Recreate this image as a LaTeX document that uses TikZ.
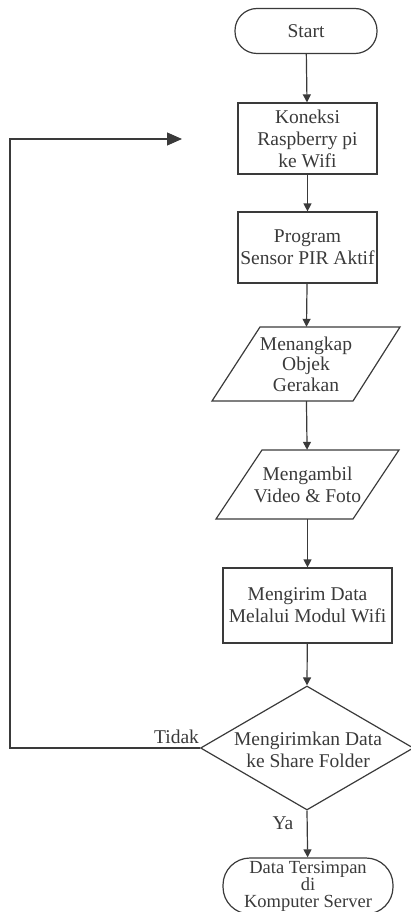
\documentclass[tikz,border=0pt]{standalone}
\usepackage{fontspec}
\setmainfont{Liberation Serif}
\usetikzlibrary{shapes.geometric,arrows.meta}
\definecolor{ink}{HTML}{3A3A3A}
\begin{document}
\begin{tikzpicture}[x=1pt,y=-1pt,
  txt/.style={text=ink, font=\fontsize{19.5}{22}\selectfont, align=center, inner sep=0pt},
  outline/.style={draw=ink, line width=1.2pt},
  proc/.style={txt, outline, rectangle, minimum width=139pt, minimum height=71pt},
  term/.style={txt, outline, rectangle, rounded corners=22pt, minimum width=142pt, minimum height=45pt},
  dec/.style={outline, diamond, minimum width=213pt, minimum height=124pt, inner sep=0pt},
  flow/.style={draw=ink, line width=1.2pt, -{Triangle[length=8pt,width=8pt]}},
  bigflow/.style={draw=ink, line width=1.2pt, -{Triangle[length=15pt,width=13pt]}}
]
\useasboundingbox (0,0) rectangle (411,912);

\node[term] (start) at (306,31) {Start};
\node[proc] (b1) at (307.5,138.5) {Koneksi\\Raspberry pi\\ke Wifi};
\node[proc] (b2) at (307.5,247.5) {Program\\Sensor PIR Aktif};

\node[txt, font=\fontsize{19.5}{20.5}\selectfont, minimum height=74pt] (p1) at (306,364) {Menangkap\\Objek\\Gerakan};
\draw[outline] (260,327) -- (400,327) -- (353,401) -- (212,401) -- cycle;

\node[txt, minimum height=69pt] (p2) at (307.5,484.5) {Mengambil\\Video \& Foto};
\draw[outline] (262,450) -- (399,450) -- (353,519) -- (216,519) -- cycle;

\node[proc, minimum width=169pt, minimum height=75pt] (b3) at (307.5,605.5) {Mengirim Data\\Melalui Modul Wifi};

\node[dec] (d) at (307,748) {};
\node[txt] (dt) at (308,750) {Mengirimkan Data\\ke Share Folder};

\node[txt, font=\fontsize{18.5}{17}\selectfont, rounded corners=27pt, outline, minimum width=170pt, minimum height=56pt] (end) at (308,886) {Data Tersimpan\\di\\Komputer Server};

\node[txt, anchor=base] (tidak) at (176.5,743) {Tidak};
\node[txt] (ya) at (283,823) {Ya};

\coordinate (corner) at (10,748);
\coordinate (loopend) at (182,139);

\draw[flow] (start) -- (b1);
\draw[flow] (b1) -- (b2);
\draw[flow] (b2) -- (p1);
\draw[flow] (p1) -- (p2);
\draw[flow] (p2) -- (b3);
\draw[flow] (b3) -- (d.north);
\draw[flow] (d.south) -- (end);
\draw[bigflow] (d.west) -- (corner) |- (loopend);
\end{tikzpicture}
\end{document}
